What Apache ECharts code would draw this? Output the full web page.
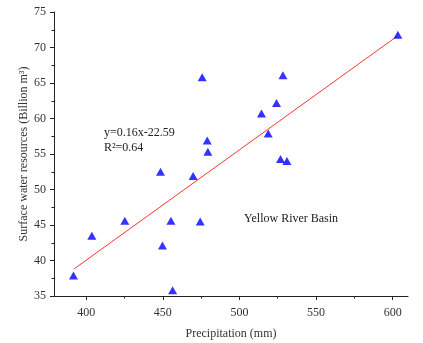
<!DOCTYPE html>
<html>
<head>
<meta charset="utf-8">
<script src="https://cdn.jsdelivr.net/npm/echarts@6/dist/echarts.min.js"></script>
<style>html,body{margin:0;padding:0;background:#fff;}#c{width:423px;height:343px;}</style>
</head>
<body>
<div id="c"></div>
<script>
var precipitation = [391.7, 403.7, 425.2, 448.5, 449.8, 455.3, 456.4, 469.8, 474.4, 475.7, 479.0, 479.4, 514.4, 518.8, 524.2, 526.8, 528.4, 531.0, 603.4];
var surfaceWater  = [37.9, 43.5, 45.6, 52.5, 42.1, 45.6, 35.8, 51.9, 45.5, 65.8, 56.9, 55.3, 60.7, 57.9, 62.2, 54.3, 66.1, 54.0, 71.8];
var fitX = [392, 603];
var fitY = [38.8, 71.6];
var xMajorTicks = [400, 450, 500, 550, 600];
var xMinorTicks = [425, 475, 525, 575];
var equationText = ['y=0.16x-22.59', 'R\u00b2=0.64'];
var basinLabel = 'Yellow River Basin';

var font = '"Liberation Serif", "Times New Roman", serif';
var pts = precipitation.map(function (x, i) { return [x, surfaceWater[i]]; });
var fit = fitX.map(function (x, i) { return [x, fitY[i]]; });

var chart = echarts.init(document.getElementById('c'), null, {renderer: 'canvas'});
chart.setOption({
  animation: false,
  backgroundColor: '#fff',
  grid: {left: 54, right: 15, top: 12, bottom: 47, outerBoundsMode: 'none', containLabel: false},
  xAxis: [{
    type: 'value', min: 379, max: 610,
    name: 'Precipitation (mm)', nameLocation: 'middle', nameGap: 32, nameMoveOverlap: false,
    nameTextStyle: {fontFamily: font, fontSize: 12, color: '#333'},
    axisLine: {lineStyle: {color: '#222', width: 1}},
    axisTick: {show: true, inside: false, length: 4, customValues: xMajorTicks, lineStyle: {color: '#222'}},
    axisLabel: {customValues: xMajorTicks, fontFamily: font, fontSize: 12, color: '#333', margin: 11},
    splitLine: {show: false}
  }, {
    type: 'value', min: 379, max: 610, position: 'bottom',
    axisLine: {show: false},
    axisTick: {show: true, inside: false, length: 2.5, customValues: xMinorTicks, lineStyle: {color: '#222'}},
    axisLabel: {show: false, customValues: xMinorTicks},
    splitLine: {show: false}
  }],
  yAxis: {
    type: 'value', min: 35, max: 75, interval: 5,
    name: 'Surface water resources (Billion m\u00b3)', nameLocation: 'middle', nameGap: 24, nameMoveOverlap: false,
    nameTextStyle: {fontFamily: font, fontSize: 12, color: '#333'},
    axisLine: {show: true, lineStyle: {color: '#222', width: 1}},
    axisTick: {show: true, inside: false, length: 4, lineStyle: {color: '#222'}},
    minorTick: {show: true, splitNumber: 2, length: 2.5, lineStyle: {color: '#222'}},
    axisLabel: {fontFamily: font, fontSize: 12, color: '#333', margin: 8},
    splitLine: {show: false}
  },
  series: [{
    type: 'line', data: fit, showSymbol: false, symbol: 'none',
    lineStyle: {color: '#ff3333', width: 1}, z: 1
  }, {
    type: 'scatter', data: pts, symbol: 'triangle', symbolSize: [9, 8],
    itemStyle: {color: '#0000ff'}, z: 3
  }],
  graphic: [{
    type: 'text', left: 104, top: 125,
    style: {text: equationText.join('\n'), font: '12px ' + font, fill: '#222', lineHeight: 15}
  }, {
    type: 'text', left: 244, top: 213,
    style: {text: basinLabel, font: '12px ' + font, fill: '#222'}
  }]
});
</script>
</body>
</html>
